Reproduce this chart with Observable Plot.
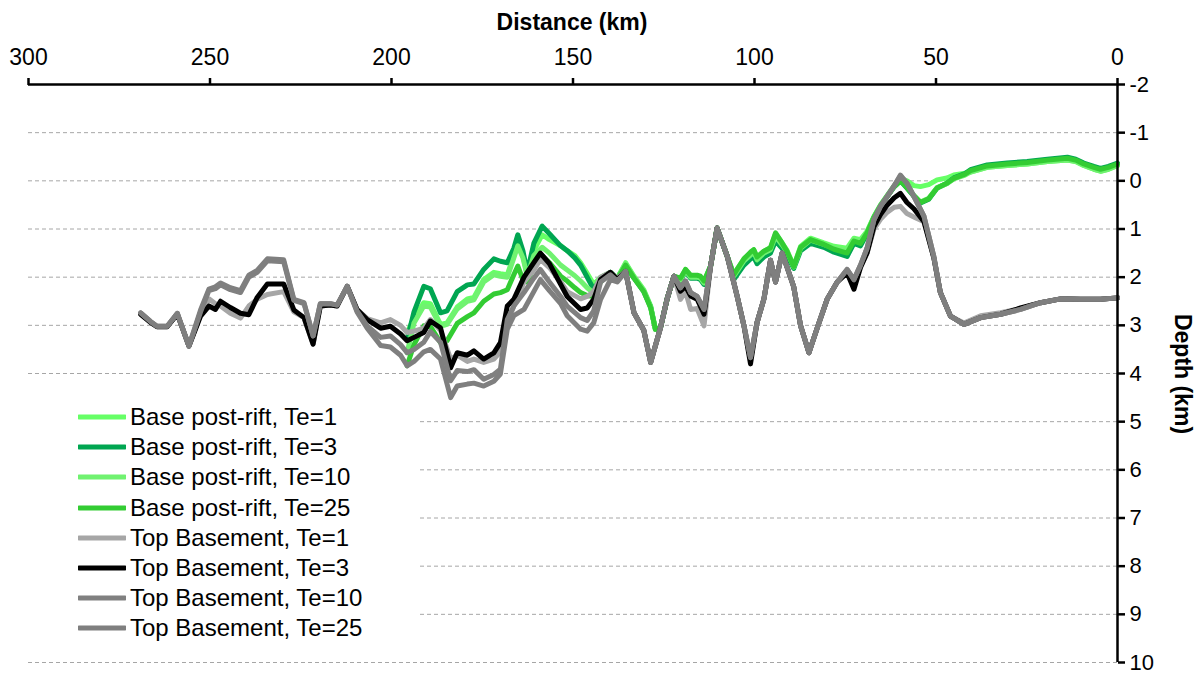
<!DOCTYPE html>
<html>
<head>
<meta charset="utf-8">
<script src="https://cdn.jsdelivr.net/npm/d3@7"></script>
<script src="https://cdn.jsdelivr.net/npm/@observablehq/plot@0.6"></script>
<style>
  html, body { margin: 0; padding: 0; background: #fff; }
  #wrap { position: relative; width: 1199px; height: 675px; font-family: "Liberation Sans", Arial, sans-serif; }
  #wrap svg { display: block; }
  .title { position: absolute; font-weight: bold; font-size: 23px; color: #000; white-space: nowrap; }
  #legend { position: absolute; left: 28px; top: 400px; width: 392px; height: 246px; background: #fff; }
  .row { position: absolute; left: 0; height: 30px; line-height: 30px; font-size: 24px; color: #000; white-space: nowrap; }
  .row svg { position: absolute; left: 50px; top: 11px; }
  .row span { position: absolute; left: 102px; top: 0; }
</style>
</head>
<body>
<div id="wrap"></div>
<script>
// ---------- Data (distance km, depth km) ----------
const xTicks = [300, 250, 200, 150, 100, 50, 0];
const yTicks = [-2, -1, 0, 1, 2, 3, 4, 5, 6, 7, 8, 9, 10];

// Base post-rift distance grid
const bprKm = [
  195.7, 193.8, 191.1, 189.3, 186.5, 184.7, 181.9, 179.1, 177.3, 174.6,
  171.8, 170.0, 168.1, 166.3, 165.2, 163.8, 162.6, 160.8, 158.5, 156.5,
  153.4, 151.6, 149.5, 147.9, 146.1, 144.3, 142.4, 139.7, 137.8, 135.5,
  133.2, 130.5, 128.6, 127.3, 125.9, 124.1, 122.2, 120.4, 119.0, 117.6,
  115.8, 114.9, 113.9, 112.1, 110.3, 107.5, 105.7, 104.8, 102.9, 101.1,
  100.2, 99.3, 97.4, 95.6, 94.2, 92.4, 91.0, 89.2, 87.3, 84.6,
  80.9, 78.1, 74.5, 72.6, 70.8, 69.0, 67.1, 65.3, 63.4, 61.5,
  59.8, 58.0, 56.1, 54.3, 52.0, 49.7, 47.0, 45.1, 42.0, 40.5,
  35.9, 30.4, 24.9, 19.3, 13.8, 11.5, 9.3, 6.5, 4.7, 2.5, 0.0
];
const bprTe1 = [
  3.15, 2.85, 2.53, 2.55, 2.98, 2.95, 2.62, 2.45, 2.42, 2.05,
  1.90, 1.93, 1.95, 1.55, 1.30, 1.55, 1.95, 1.45, 1.12, 1.22,
  1.35, 1.45, 1.55, 1.70, 1.92, 2.15, 2.00, 1.90, 2.02, 1.70,
  1.98, 2.26, 2.60, 3.08, 3.05, 2.46, 1.98, 2.05, 1.84, 1.98,
  1.98, 2.00, 2.10, 1.77, 0.98, 1.57, 1.95, 1.84, 1.62, 1.50,
  1.43, 1.60, 1.46, 1.39, 1.10, 1.29, 1.45, 1.77, 1.36, 1.19,
  1.29, 1.36, 1.40, 1.19, 1.22, 1.05, 0.74, 0.50, 0.30, 0.10,
  -0.05, 0.00, 0.10, 0.12, 0.08, -0.02, -0.06, -0.12, -0.16, -0.18,
  -0.28, -0.32, -0.35, -0.40, -0.43, -0.40, -0.32, -0.24, -0.20, -0.24, -0.32
];
const bprTe3 = [
  3.30, 2.72, 2.19, 2.24, 2.74, 2.70, 2.30, 2.16, 2.14, 1.84,
  1.62, 1.67, 1.70, 1.40, 1.12, 1.45, 1.90, 1.30, 0.94, 1.10,
  1.35, 1.45, 1.60, 1.75, 2.00, 2.25, 2.05, 1.90, 2.02, 1.75,
  2.02, 2.30, 2.62, 3.08, 3.05, 2.46, 1.98, 2.08, 1.88, 2.02,
  2.02, 2.05, 2.15, 1.77, 0.98, 1.57, 2.05, 1.95, 1.75, 1.62,
  1.58, 1.72, 1.58, 1.50, 1.25, 1.40, 1.55, 1.82, 1.45, 1.30,
  1.38, 1.48, 1.57, 1.30, 1.35, 1.10, 0.76, 0.52, 0.32, 0.12,
  0.00, 0.15, 0.32, 0.46, 0.38, 0.15, 0.05, -0.06, -0.15, -0.23,
  -0.33, -0.37, -0.40, -0.45, -0.49, -0.45, -0.37, -0.30, -0.26, -0.30, -0.37
];
const bprTe10 = [
  3.57, 2.95, 2.60, 2.62, 3.02, 2.98, 2.66, 2.50, 2.47, 2.10,
  1.95, 1.98, 2.00, 1.60, 1.35, 1.60, 1.98, 1.55, 1.38, 1.50,
  1.75, 1.85, 1.97, 2.08, 2.22, 2.33, 2.05, 1.90, 2.02, 1.72,
  2.00, 2.28, 2.62, 3.08, 3.05, 2.46, 1.98, 2.06, 1.86, 2.00,
  2.00, 2.02, 2.12, 1.77, 0.98, 1.57, 1.98, 1.88, 1.66, 1.54,
  1.48, 1.64, 1.50, 1.43, 1.15, 1.33, 1.48, 1.79, 1.40, 1.23,
  1.32, 1.40, 1.45, 1.22, 1.26, 1.07, 0.75, 0.51, 0.31, 0.11,
  -0.02, 0.12, 0.30, 0.44, 0.36, 0.14, 0.06, -0.04, -0.12, -0.18,
  -0.28, -0.32, -0.35, -0.40, -0.43, -0.40, -0.32, -0.24, -0.20, -0.24, -0.32
];
const bprTe25 = [
  3.84, 3.40, 3.01, 3.02, 3.36, 3.32, 2.96, 2.82, 2.74, 2.50,
  2.35, 2.32, 2.26, 1.95, 1.77, 2.05, 2.10, 1.78, 1.55, 1.70,
  1.98, 2.08, 2.22, 2.32, 2.38, 2.40, 2.10, 1.92, 2.05, 1.75,
  2.02, 2.30, 2.64, 3.08, 3.05, 2.46, 1.98, 2.02, 1.84, 1.96,
  1.96, 1.98, 2.08, 1.77, 0.98, 1.57, 1.95, 1.84, 1.62, 1.48,
  1.43, 1.58, 1.46, 1.39, 1.08, 1.29, 1.47, 1.78, 1.38, 1.22,
  1.32, 1.42, 1.50, 1.25, 1.30, 1.08, 0.76, 0.52, 0.32, 0.12,
  0.00, 0.14, 0.31, 0.45, 0.37, 0.15, 0.05, -0.05, -0.14, -0.21,
  -0.31, -0.35, -0.38, -0.43, -0.47, -0.43, -0.35, -0.28, -0.24, -0.28, -0.35
];

// Top basement distance grid
const tbKm = [
  269.1, 266.4, 264.6, 261.8, 259.0, 255.8, 252.6, 250.3, 248.5, 247.1,
  244.4, 241.6, 239.3, 237.0, 234.2, 229.7, 226.9, 224.1, 221.6, 219.6,
  216.8, 215.0, 212.2, 209.5, 206.7, 203.0, 200.3, 197.5, 195.7, 193.8,
  191.1, 189.3, 186.5, 183.7, 181.9, 179.1, 177.3, 174.6, 171.8, 170.0,
  168.1, 166.3, 163.5, 160.8, 159.0, 156.5, 153.4, 151.6, 147.9, 146.1,
  144.3, 142.4, 139.7, 137.8, 135.5, 133.2, 130.5, 128.6, 125.9, 124.1,
  122.2, 120.4, 119.0, 117.6, 115.8, 113.9, 112.1, 110.3, 107.5, 104.8,
  102.9, 101.1, 99.3, 97.4, 95.6, 94.2, 92.4, 91.0, 89.2, 87.3,
  85.0, 82.7, 80.0, 77.2, 74.5, 72.6, 70.8, 69.0, 67.1, 65.3,
  63.4, 61.5, 59.8, 58.0, 56.1, 53.3, 50.6, 48.8, 46.0, 42.3,
  37.7, 32.2, 26.7, 21.2, 15.7, 10.2, 4.7, 0.0
];
const tbTe1 = [
  2.77, 2.94, 3.03, 3.03, 2.77, 3.43, 2.78, 2.45, 2.55, 2.60,
  2.75, 2.85, 2.60, 2.46, 2.36, 2.30, 2.72, 2.84, 3.39, 2.60,
  2.58, 2.60, 2.19, 2.67, 2.86, 2.95, 2.88, 3.00, 3.15, 3.12,
  3.06, 2.88, 3.10, 3.70, 3.62, 3.75, 3.70, 3.77, 3.70, 3.55,
  2.95, 2.60, 2.10, 1.85, 1.63, 1.80, 2.10, 2.30, 2.45, 2.40,
  2.30, 2.00, 1.90, 2.02, 1.88, 2.74, 3.10, 3.77, 3.05, 2.46,
  1.98, 2.46, 2.30, 2.67, 2.65, 3.01, 1.77, 0.98, 1.57, 2.39,
  3.01, 3.70, 2.94, 2.45, 1.65, 2.10, 1.50, 1.80, 2.20, 3.01,
  3.57, 3.05, 2.46, 2.10, 1.90, 2.15, 1.78, 1.50, 1.00, 0.80,
  0.65, 0.55, 0.53, 0.68, 0.75, 0.85, 1.60, 2.32, 2.81, 2.95,
  2.80, 2.74, 2.65, 2.53, 2.45, 2.46, 2.46, 2.43
];
const tbTe3 = [
  2.77, 2.94, 3.03, 3.03, 2.77, 3.43, 2.81, 2.60, 2.67, 2.50,
  2.63, 2.75, 2.78, 2.42, 2.14, 2.14, 2.68, 2.84, 3.39, 2.60,
  2.58, 2.60, 2.19, 2.67, 2.88, 3.06, 3.02, 3.18, 3.32, 3.25,
  3.15, 2.91, 3.05, 3.88, 3.57, 3.62, 3.53, 3.70, 3.57, 3.36,
  2.60, 2.46, 2.00, 1.70, 1.50, 1.72, 2.15, 2.40, 2.67, 2.64,
  2.46, 2.05, 1.90, 2.05, 1.88, 2.74, 3.10, 3.77, 3.05, 2.46,
  1.98, 2.29, 2.19, 2.39, 2.46, 2.77, 1.77, 0.98, 1.57, 2.39,
  3.01, 3.80, 2.94, 2.45, 1.65, 2.10, 1.50, 1.80, 2.20, 3.01,
  3.57, 3.05, 2.46, 2.10, 1.91, 2.25, 1.80, 1.50, 0.95, 0.70,
  0.50, 0.35, 0.26, 0.45, 0.58, 0.85, 1.60, 2.32, 2.81, 2.98,
  2.84, 2.77, 2.64, 2.53, 2.45, 2.46, 2.46, 2.43
];
const tbTe10 = [
  2.74, 2.92, 3.02, 3.02, 2.75, 3.43, 2.72, 2.28, 2.24, 2.16,
  2.26, 2.32, 2.00, 1.90, 1.66, 1.68, 2.48, 2.55, 3.22, 2.55,
  2.55, 2.58, 2.19, 2.70, 3.01, 3.25, 3.22, 3.40, 3.57, 3.50,
  3.35, 3.13, 3.35, 4.15, 3.94, 3.96, 3.92, 4.12, 4.02, 3.91,
  2.88, 2.60, 2.32, 2.02, 1.84, 2.10, 2.40, 2.60, 2.84, 2.90,
  2.70, 2.10, 1.95, 2.08, 1.88, 2.74, 3.10, 3.77, 3.05, 2.46,
  1.98, 2.22, 2.08, 2.32, 2.40, 2.67, 1.77, 0.98, 1.57, 2.39,
  3.01, 3.67, 2.94, 2.45, 1.65, 2.10, 1.50, 1.80, 2.20, 3.01,
  3.57, 3.05, 2.46, 2.10, 1.84, 2.05, 1.75, 1.40, 0.81, 0.53,
  0.32, 0.10, -0.12, 0.05, 0.32, 0.74, 1.57, 2.32, 2.81, 2.98,
  2.84, 2.77, 2.67, 2.53, 2.45, 2.46, 2.46, 2.43
];
const tbTe25 = [
  2.74, 2.92, 3.02, 3.02, 2.75, 3.43, 2.68, 2.25, 2.20, 2.12,
  2.22, 2.28, 1.96, 1.86, 1.62, 1.64, 2.46, 2.53, 3.22, 2.55,
  2.55, 2.58, 2.19, 2.72, 3.06, 3.42, 3.45, 3.62, 3.84, 3.75,
  3.55, 3.50, 3.70, 4.50, 4.26, 4.22, 4.20, 4.26, 4.16, 4.01,
  3.08, 2.80, 2.67, 2.30, 2.05, 2.28, 2.55, 2.80, 3.08, 3.12,
  2.95, 2.46, 2.05, 2.10, 1.88, 2.74, 3.10, 3.77, 3.05, 2.46,
  1.98, 2.22, 2.08, 2.32, 2.40, 2.67, 1.77, 0.98, 1.57, 2.39,
  3.01, 3.67, 2.94, 2.45, 1.65, 2.10, 1.50, 1.80, 2.20, 3.01,
  3.57, 3.05, 2.46, 2.10, 1.84, 2.05, 1.75, 1.40, 0.81, 0.53,
  0.32, 0.10, -0.10, 0.05, 0.32, 0.74, 1.57, 2.32, 2.81, 2.98,
  2.84, 2.77, 2.67, 2.53, 2.45, 2.46, 2.46, 2.43
];

const seriesNames = [
  "Base post-rift, Te=1", "Base post-rift, Te=3", "Base post-rift, Te=10", "Base post-rift, Te=25",
  "Top Basement, Te=1", "Top Basement, Te=3", "Top Basement, Te=10", "Top Basement, Te=25"
];
const seriesColors = ["#66ff66", "#00a651", "#70f270", "#33cc33", "#a6a6a6", "#000000", "#808080", "#7f7f7f"];
const seriesKm = [bprKm, bprKm, bprKm, bprKm, tbKm, tbKm, tbKm, tbKm];
const seriesDepth = [bprTe1, bprTe3, bprTe10, bprTe25, tbTe1, tbTe3, tbTe10, tbTe25];

// ---------- Build ----------
const series = seriesNames.map((name, i) => ({
  name, color: seriesColors[i],
  rows: seriesKm[i].map((km, j) => ({km, depth: seriesDepth[i][j]}))
}));

const FONT = "Liberation Sans, Arial, sans-serif";

const chart = Plot.plot({
  width: 1199,
  height: 675,
  marginLeft: 28,
  marginRight: 82,
  marginTop: 84,
  marginBottom: 13,
  style: {fontFamily: FONT, background: "#fff", color: "#000"},
  x: {domain: [300, 0]},
  y: {domain: [-2, 10], reverse: true},
  marks: [
    Plot.ruleY(yTicks.filter(d => d !== -2), {stroke: "#a6a6a6", strokeWidth: 1, strokeDasharray: "4,3"}),
    ...series.map(s => Plot.line(s.rows, {x: "km", y: "depth", stroke: s.color, strokeWidth: 5, strokeLinejoin: "round", strokeLinecap: "round"})),
    Plot.ruleY([-2], {stroke: "#000", strokeWidth: 2.5}),
    Plot.ruleX([0], {stroke: "#000", strokeWidth: 2.5}),
    Plot.axisX({anchor: "top", ticks: xTicks, tickSize: 7, tickPadding: 13, fontSize: 23, strokeWidth: 2.5, label: null, tickFormat: d => String(d)}),
    Plot.axisY({anchor: "right", ticks: yTicks, tickSize: 7, tickPadding: 5, fontSize: 22, strokeWidth: 2.5, label: null, tickFormat: d => String(d)})
  ]
});

const wrap = document.getElementById("wrap");
wrap.appendChild(chart);

// Axis titles
const t1 = document.createElement("div");
t1.className = "title";
t1.textContent = "Distance (km)";
t1.style.left = "572px"; t1.style.top = "22px"; t1.style.transform = "translate(-50%, -50%)";
wrap.appendChild(t1);

const t2 = document.createElement("div");
t2.className = "title";
t2.textContent = "Depth (km)";
t2.style.left = "1182px"; t2.style.top = "374px"; t2.style.transform = "translate(-50%, -50%) rotate(90deg)";
wrap.appendChild(t2);

// Legend
const legend = document.createElement("div");
legend.id = "legend";
series.forEach((s, i) => {
  const row = document.createElement("div");
  row.className = "row";
  row.style.top = (2 + i * 30.2) + "px";
  row.innerHTML = `<svg width="48" height="8"><line x1="1" y1="4" x2="47" y2="4" stroke="${s.color}" stroke-width="5" stroke-linecap="round"/></svg><span>${s.name}</span>`;
  legend.appendChild(row);
});
wrap.appendChild(legend);
</script>
</body>
</html>
